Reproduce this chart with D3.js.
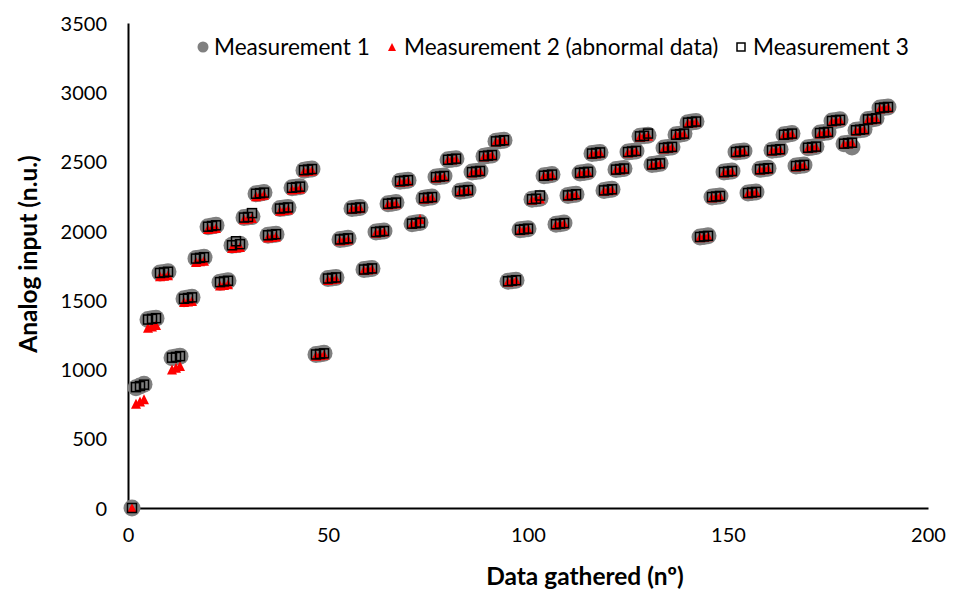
<!DOCTYPE html>
<html>
<head>
<meta charset="utf-8">
<script src="https://cdn.jsdelivr.net/npm/d3@7"></script>
<style>
  body { margin: 0; background: #fff; }
  svg { display: block; }
  text { font-family: Lato, "Open Sans", sans-serif; fill: #000; }
</style>
</head>
<body>
<svg id="chart" width="956" height="589"></svg>
<script>
// Axis ticks and labels
const xTicks = [0, 50, 100, 150, 200];
const yTicks = [0, 500, 1000, 1500, 2000, 2500, 3000, 3500];
const seriesNames = ["Measurement 1", "Measurement 2 (abnormal data)", "Measurement 3"];
const xTitle = "Data gathered (nº)";
const yTitle = "Analog input (n.u.)";

// Readings, one value per gathered sample (sample 1 .. 190)
const measurement1 = [0,
  868,880,893, 1360,1365,1370, 1696,1700,1705, 1085,1090,1096,
  1510,1515,1520, 1800,1805,1810, 2030,2035,2040, 1630,1635,1640,
  1896,1900,1904, 2096,2100,2104, 2268,2272,2276, 1968,1972,1976,
  2161,2165,2169, 2311,2315,2319, 2438,2442,2446, 1108,1112,1116,
  1656,1660,1664, 1938,1942,1946, 2161,2165,2169, 1721,1725,1729,
  1991,1995,1999, 2196,2200,2204, 2358,2362,2366, 2052,2056,2060,
  2236,2240,2244, 2388,2392,2396, 2513,2517,2521, 2286,2290,2294,
  2424,2428,2432, 2539,2543,2547, 2646,2650,2654, 1636,1640,1644,
  2008,2012,2016, 2228,2232,2236, 2398,2402,2406, 2048,2052,2056,
  2256,2260,2264, 2418,2422,2426, 2558,2562,2566, 2292,2296,2300,
  2442,2446,2450, 2569,2573,2577, 2682,2686,2690, 2479,2483,2487,
  2598,2602,2606, 2694,2698,2702, 2781,2785,2789, 1956,1960,1964,
  2244,2248,2252, 2424,2428,2432, 2569,2573,2577, 2273,2277,2281,
  2444,2448,2452, 2581,2585,2589, 2694,2698,2702, 2468,2472,2476,
  2600,2604,2608, 2706,2710,2714, 2793,2797,2801, 2629,2633,2605,
  2726,2730,2734, 2804,2808,2812, 2886,2890,2894];

const measurement2 = [0,
  752,768,785, 1300,1310,1320, 1672,1676,1680, 1000,1012,1025,
  1486,1490,1494, 1776,1780,1784, 2013,2017,2021, 1606,1610,1614,
  1876,1880,1884, 2084,2088,2092, 2250,2255,2260, 1952,1956,1960,
  2146,2150,2154, 2298,2302,2306, 2428,2432,2436, 1098,1102,1106,
  1646,1650,1654, 1930,1934,1938, 2157,2161,2165, 1717,1721,1725,
  1987,1991,1995, 2190,2194,2198, 2352,2356,2360, 2050,2054,2085,
  2232,2236,2240, 2384,2388,2392, 2511,2515,2519, 2284,2288,2292,
  2422,2426,2430, 2537,2541,2545, 2644,2648,2652, 1633,1637,1641,
  2005,2009,2013, 2225,2229,2233, 2395,2399,2403, 2045,2049,2053,
  2253,2257,2261, 2415,2419,2423, 2555,2559,2563, 2289,2293,2297,
  2439,2443,2447, 2566,2570,2574, 2679,2683,2687, 2476,2480,2484,
  2595,2599,2603, 2691,2695,2699, 2778,2782,2786, 1953,1957,1961,
  2241,2245,2249, 2421,2425,2429, 2566,2570,2574, 2270,2274,2278,
  2441,2445,2449, 2578,2582,2586, 2691,2695,2699, 2465,2469,2473,
  2597,2601,2605, 2703,2707,2711, 2790,2794,2798, 2626,2630,2634,
  2723,2727,2731, 2801,2805,2809, 2883,2887,2891];

const measurement3 = [0,
  872,880,890, 1360,1365,1370, 1696,1700,1705, 1085,1090,1096,
  1510,1515,1520, 1800,1805,1810, 2030,2035,2040, 1630,1635,1640,
  1896,1925,1904, 2096,2100,2128, 2268,2272,2276, 1968,1972,1976,
  2161,2165,2169, 2311,2315,2319, 2438,2442,2446, 1108,1112,1116,
  1656,1660,1664, 1938,1942,1946, 2161,2165,2169, 1721,1725,1729,
  1991,1995,1999, 2196,2200,2204, 2358,2362,2366, 2052,2056,2060,
  2236,2240,2244, 2388,2392,2396, 2513,2517,2521, 2286,2290,2294,
  2424,2428,2432, 2539,2543,2547, 2646,2650,2654, 1636,1640,1644,
  2008,2012,2016, 2228,2232,2255, 2398,2402,2406, 2048,2052,2056,
  2256,2260,2264, 2418,2422,2426, 2558,2562,2566, 2292,2296,2300,
  2442,2446,2450, 2569,2573,2577, 2682,2686,2702, 2479,2483,2487,
  2598,2602,2606, 2694,2698,2702, 2781,2785,2789, 1956,1960,1964,
  2244,2248,2252, 2424,2428,2432, 2569,2573,2577, 2273,2277,2281,
  2444,2448,2452, 2581,2585,2589, 2694,2698,2702, 2468,2472,2476,
  2600,2604,2608, 2706,2710,2714, 2793,2797,2801, 2629,2633,2636,
  2726,2730,2734, 2804,2808,2812, 2886,2890,2894];

const width = 956, height = 589;
const margin = { top: 23, right: 28, bottom: 81, left: 128 };
const svg = d3.select("#chart");

const x = d3.scaleLinear().domain([0, 200]).range([margin.left, width - margin.right]);
const y = d3.scaleLinear().domain([0, 3500]).range([height - margin.bottom, margin.top]);

const toPoints = vals => vals.map((v, i) => ({ n: i + 1, v }));

// Axes: plain lines, no tick marks, labels only
const xAxis = d3.axisBottom(x).tickValues(xTicks).tickFormat(d3.format("d")).tickSize(0).tickPadding(20);
const yAxis = d3.axisLeft(y).tickValues(yTicks).tickFormat(d3.format("d")).tickSize(0).tickPadding(21);

const gx = svg.append("g").attr("transform", `translate(0,${y(0)})`).call(xAxis);
const gy = svg.append("g").attr("transform", `translate(${x(0)},0)`).call(yAxis);
[gx, gy].forEach(g => {
  g.select(".domain").attr("stroke", "#000").attr("stroke-width", 2);
  g.selectAll("text").attr("font-family", "Lato, 'Open Sans', sans-serif")
    .attr("font-size", 20).attr("fill", "#000");
});
gy.selectAll(".tick text").attr("dy", "0.36em");

// Axis titles
svg.append("text")
  .attr("x", 585).attr("y", 585)
  .attr("text-anchor", "middle")
  .attr("font-size", 24.5).attr("font-weight", "bold")
  .text(xTitle);

svg.append("text")
  .attr("transform", `translate(37,${254}) rotate(-90)`)
  .attr("text-anchor", "middle")
  .attr("font-size", 24.5).attr("font-weight", "bold")
  .text(yTitle);

// Marker shapes
const triPath = (w, h) => {
  const p = d3.path();
  p.moveTo(0, -h / 2); p.lineTo(w / 2, h / 2); p.lineTo(-w / 2, h / 2); p.closePath();
  return p.toString();
};

const plot = svg.append("g");

// Measurement 1: grey circles
plot.append("g").selectAll("circle")
  .data(toPoints(measurement1)).join("circle")
  .attr("cx", d => x(d.n)).attr("cy", d => y(d.v))
  .attr("r", 8.5).attr("fill", "#808080");

// Measurement 2: red triangles
plot.append("g").selectAll("path")
  .data(toPoints(measurement2)).join("path")
  .attr("d", triPath(10, 10))
  .attr("transform", d => `translate(${x(d.n)},${y(d.v)})`)
  .attr("fill", "#ff0000");

// Measurement 3: hollow black squares
const sq = 9;
plot.append("g").selectAll("rect")
  .data(toPoints(measurement3)).join("rect")
  .attr("x", d => x(d.n) - sq / 2).attr("y", d => y(d.v) - sq / 2)
  .attr("width", sq).attr("height", sq)
  .attr("fill", "none").attr("stroke", "#000").attr("stroke-width", 1.5);

// Legend
const legend = svg.append("g").attr("font-size", 22.6);
const ly = 47;
legend.append("circle").attr("cx", 203).attr("cy", ly).attr("r", 5.5).attr("fill", "#808080");
legend.append("text").attr("x", 214).attr("y", ly).attr("dy", "0.35em").text(seriesNames[0]);
legend.append("path").attr("d", triPath(8, 8)).attr("transform", `translate(392,${ly})`).attr("fill", "#ff0000");
legend.append("text").attr("x", 404).attr("y", ly).attr("dy", "0.35em").text(seriesNames[1]);
legend.append("rect").attr("x", 737).attr("y", ly - 4).attr("width", 8).attr("height", 8)
  .attr("fill", "#fff").attr("stroke", "#000").attr("stroke-width", 1.5);
legend.append("text").attr("x", 753).attr("y", ly).attr("dy", "0.35em").text(seriesNames[2]);
</script>
</body>
</html>
